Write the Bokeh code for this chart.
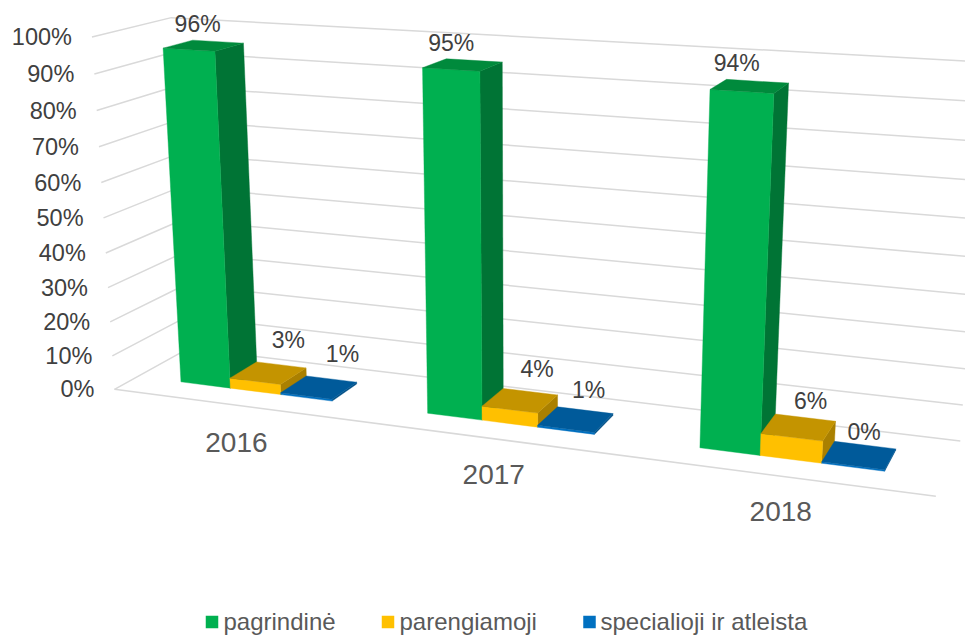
import numpy as np
from bokeh.plotting import figure
from bokeh.models import Range1d
from bokeh.core.properties import value
from bokeh.embed import file_html
from bokeh.resources import INLINE

years = ["2016", "2017", "2018"]
series = ["pagrindinė", "parengiamoji", "specialioji ir atleista"]
pagrindine = [96, 95, 94]
parengiamoji = [3, 4, 6]
specialioji = [0.55, 0.55, 0.4]
ticks = [0, 10, 20, 30, 40, 50, 60, 70, 80, 90, 100]

# camera of the 3-D scene: (category, depth, share of axis) -> page pixels
CAMERA = np.array([[229.3916, 86.93909, -27.31962, 113.9958],
                   [12.13024, -17.16337, -354.2791, 388.8629],
                   [-0.04745859, 0.06871142, -0.05240926, 1.0]])
BAR_START, BAR_W, DEPTH_F, DEPTH_B = 0.18474, 0.20808, 0.30172, 0.68780
LABEL_OFFSET = [[(-6, -22), (-11.5, -22), (-13, -23)],
                [(20, -32.5), (17, -32), (12, -26)],
                [(23.5, -33.5), (13, -29), (5, -23)]]
YEAR_OFFSET = [(-19, 51), (-16, 51), (-10, 52)]

def proj(u, d, v):
    h = CAMERA @ np.array([u, d, v / 100, 1.0])
    return h[0] / h[2], h[1] / h[2]

p = figure(width=965, height=635, x_range=Range1d(0, 965), y_range=Range1d(635, 0),
           toolbar_location=None, output_backend="svg", min_border=0, outline_line_color=None)
p.axis.visible = False
p.grid.visible = False
font = value("Liberation Sans")

gx, gy = [], []
for tk in ticks:
    pts = [proj(0, 0, tk), proj(0, 1, tk), proj(3, 1, tk)]
    gx.append([q[0] for q in pts])
    gy.append([q[1] for q in pts])
pf = [proj(0, 0, 0), proj(3, 0, 0)]
gx.append([q[0] for q in pf])
gy.append([q[1] for q in pf])
p.multi_line(gx, gy, line_color="#D9D9D9", line_width=1.5)

vals = [pagrindine, parengiamoji, specialioji]
FRONT = ["#00B050", "#FFC000", "#0070C0"]
SIDE = ["#007435", "#AA8000", "#004F86"]
TOP = ["#008A3C", "#C49400", "#005A9A"]

def face(corners, col):
    p.patch([q[0] for q in corners], [q[1] for q in corners], fill_color=col, line_color=col, line_width=0.4)

for c in range(3):
    for s in range(3):
        V = vals[s][c]
        u0 = c + BAR_START + s * BAR_W
        u1 = u0 + BAR_W
        face([proj(u1, DEPTH_F, 0), proj(u1, DEPTH_B, 0), proj(u1, DEPTH_B, V), proj(u1, DEPTH_F, V)], SIDE[s])
        face([proj(u0, DEPTH_F, 0), proj(u1, DEPTH_F, 0), proj(u1, DEPTH_F, V), proj(u0, DEPTH_F, V)], FRONT[s])
        face([proj(u0, DEPTH_F, V), proj(u1, DEPTH_F, V), proj(u1, DEPTH_B, V), proj(u0, DEPTH_B, V)], TOP[s])

for tk in ticks:
    x, y = proj(0, 0, tk)
    p.text([x - 20], [y], text=[f"{tk}%"], text_font=font, text_font_size=value("23.5px"), text_color="#404040",
           text_align="right", text_baseline="middle")

for c in range(3):
    for s in range(3):
        V = vals[s][c]
        u = c + BAR_START + (s + 0.5) * BAR_W
        x, y = proj(u, (DEPTH_F + DEPTH_B) / 2, V)
        dx, dy = LABEL_OFFSET[s][c]
        p.text([x + dx], [y + dy], text=[f"{round(V)}%"], text_font=font, text_font_size=value("23px"),
               text_color="#404040", text_align="center", text_baseline="middle")
    x, y = proj(c + BAR_START + 1.5 * BAR_W, DEPTH_F, 0)
    dx, dy = YEAR_OFFSET[c]
    p.text([x + dx], [y + dy], text=[years[c]], text_font=font, text_font_size=value("28px"), text_color="#595959",
           text_align="center", text_baseline="middle")

LEG_BOX_X = [211.5, 387.5, 589]
LEG_TEXT_X = [223, 399, 600]
for i in range(3):
    p.scatter([LEG_BOX_X[i]], [621.5], marker="square", size=12.5, fill_color=FRONT[i], line_color=None)
    p.text([LEG_TEXT_X[i]], [620.5], text=[series[i]], text_font=font, text_font_size=value("24px"),
           text_color="#595959", text_align="left", text_baseline="middle")

open("out.html", "w").write(file_html(p, INLINE))
